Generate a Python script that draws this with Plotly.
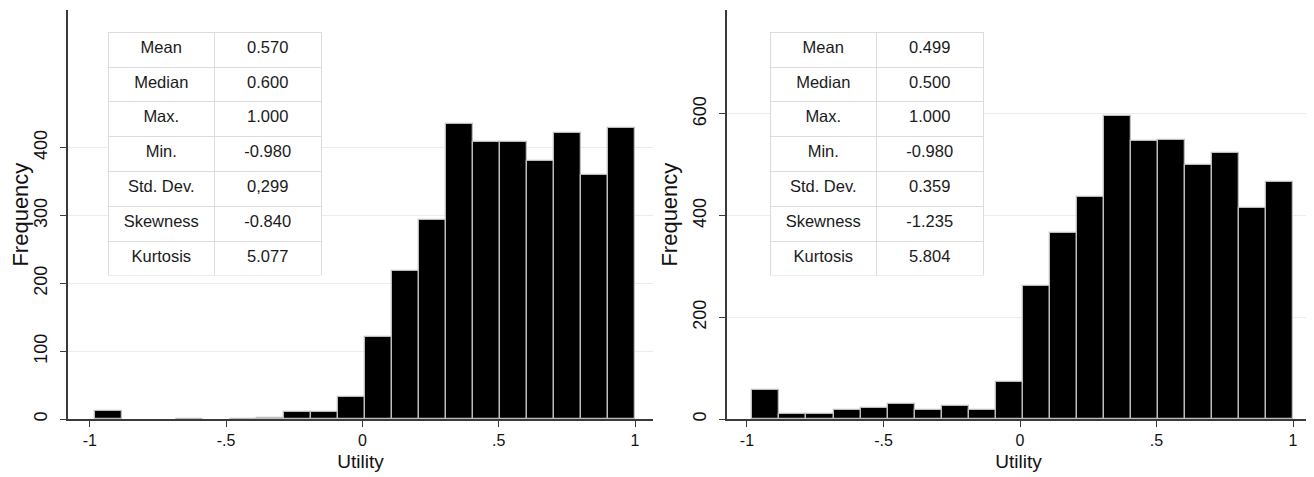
import plotly.graph_objects as go

# ---- data ----
bin_start = -0.98
bin_width = 0.099
left_counts = [12, 0, 0, 1, 0, 1, 2, 11, 11, 33, 121, 219, 294, 435, 409, 408, 380, 422, 360, 429]
right_counts = [58, 10, 10, 18, 22, 29, 19, 27, 19, 73, 261, 366, 437, 595, 547, 548, 499, 524, 415, 466]

stat_labels = ["Mean", "Median", "Max.", "Min.", "Std. Dev.", "Skewness", "Kurtosis"]
left_stats = ["0.570", "0.600", "1.000", "-0.980", "0,299", "-0.840", "5.077"]
right_stats = ["0.499", "0.500", "1.000", "-0.980", "0.359", "-1.235", "5.804"]

x_tickvals = [-1, -0.5, 0, 0.5, 1]
x_ticktext = ["-1", "-.5", "0", ".5", "1"]
left_yticks = [0, 100, 200, 300, 400]
right_yticks = [0, 200, 400, 600]

x_title = "Utility"
y_title = "Frequency"

# ---- layout constants ----
OFF = 8  # page body margin
W, H = 1314 - OFF, 477 - OFF
FONT = "Liberation Sans Narrow, Arial Narrow, Liberation Sans, Arial, sans-serif"
centers = [bin_start + (i + 0.5) * bin_width for i in range(len(left_counts))]

fig = go.Figure()


def bar_trace(counts, xa, ya):
    line_w = [1.3 if c > 0 else 0 for c in counts]
    return go.Bar(x=centers, y=counts, xaxis=xa, yaxis=ya, width=bin_width,
                  marker=dict(color="black", line=dict(color="#bdbdbd", width=line_w)),
                  showlegend=False, hoverinfo="x+y")


fig.add_trace(bar_trace(left_counts, "x", "y"))
fig.add_trace(bar_trace(right_counts, "x2", "y2"))


def px_x(p):
    return (p - OFF) / W


def px_y(p):
    return 1 - (p - OFF) / H


def add_table(xl, xr, ytop, values):
    row_h = 34.8
    fnt = dict(family=FONT, size=16.5, color="#1a1a1a")
    fig.add_trace(go.Table(
        domain=dict(x=[px_x(xl), px_x(xr)], y=[px_y(ytop + row_h * 7 + 1), px_y(ytop)]),
        columnwidth=[1, 1],
        header=dict(values=[stat_labels[0], values[0]], height=row_h,
                    fill_color="white", line=dict(color="#dcdcdc", width=1),
                    align="center", font=fnt),
        cells=dict(values=[stat_labels[1:], values[1:]], height=row_h,
                   fill_color="white", line=dict(color="#dcdcdc", width=1),
                   align="center", font=fnt),
    ))


add_table(108, 321, 32.5, left_stats)
add_table(770, 984, 32.5, right_stats)

axis_common = dict(showline=True, linecolor="#3a3a3a", linewidth=1.5, ticks="outside",
                   ticklen=6, tickcolor="#3a3a3a", tickwidth=1.2, zeroline=False)
xfont = dict(tickfont=dict(family=FONT, size=16, color="#111"),
             title_font=dict(family=FONT, size=19, color="#111"))
yfont = dict(tickfont=dict(family=FONT, size=18, color="#111"),
             title_font=dict(family=FONT, size=22, color="#111"))

yb, yt = px_y(421), px_y(10)
fig.update_layout(
    width=W, height=H,
    margin=dict(l=0, r=0, t=0, b=0),
    paper_bgcolor="white", plot_bgcolor="white",
    bargap=0,
    xaxis=dict(domain=[px_x(68), px_x(653)], range=[-1.08, 1.066], anchor="y",
               tickvals=x_tickvals, ticktext=x_ticktext, showgrid=False,
               title=dict(text=x_title, standoff=7), **axis_common, **xfont),
    yaxis=dict(domain=[yb, yt], range=[0, 603], anchor="x", tickvals=left_yticks,
               tickangle=-90, showgrid=True, gridcolor="#ececec", gridwidth=1,
               ticklabelstandoff=6,
               title=dict(text=y_title, standoff=7), **axis_common, **yfont),
    xaxis2=dict(domain=[px_x(727), px_x(1310)], range=[-1.073, 1.062], anchor="y2",
                tickvals=x_tickvals, ticktext=x_ticktext, showgrid=False,
                title=dict(text=x_title, standoff=7), **axis_common, **xfont),
    yaxis2=dict(domain=[yb, yt], range=[0, 804], anchor="x2", tickvals=right_yticks,
                tickangle=-90, showgrid=True, gridcolor="#ececec", gridwidth=1,
                ticklabelstandoff=6,
                title=dict(text=y_title, standoff=6), **axis_common, **yfont),
)

fig.write_html("out.html")
